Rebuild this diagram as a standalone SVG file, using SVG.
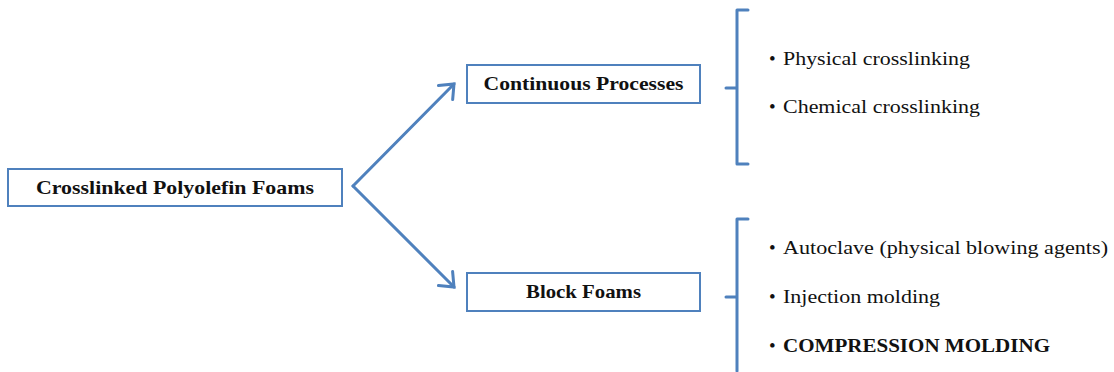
<svg xmlns="http://www.w3.org/2000/svg" width="1114" height="372" viewBox="0 0 1114 372">
  <style>
    .box { fill: #ffffff; stroke: #4f81bd; stroke-width: 2; }
    .lbl { font-family: "Liberation Serif", "DejaVu Serif", serif; font-weight: bold; font-size: 19.5px; fill: #111111; text-anchor: middle; }
    .item { font-family: "Liberation Serif", "DejaVu Serif", serif; font-size: 19px; fill: #111111; }
    .item.b { font-weight: bold; }
    .dot { font-family: "Liberation Serif", "DejaVu Serif", serif; font-size: 19px; fill: #111111; }
    .conn { fill: none; stroke: #4f81bd; stroke-width: 3; stroke-linecap: round; stroke-linejoin: round; }
  </style>
  <defs>
    <marker id="chev" markerUnits="userSpaceOnUse" viewBox="-16 -14 20 28" refX="0" refY="0" markerWidth="20" markerHeight="28" orient="auto" overflow="visible">
      <path d="M-12,-10 L0,0 L-12,10" fill="none" stroke="#4f81bd" stroke-width="3" stroke-linecap="round" stroke-linejoin="miter"/>
    </marker>
  </defs>

  <rect width="1114" height="372" fill="#ffffff"/>

  <!-- connectors: split arrows and side brackets -->
  <g id="connectors">
    <path class="conn" d="M353,186 L454,84" marker-end="url(#chev)"/>
    <path class="conn" d="M353,186 L454,287" marker-end="url(#chev)"/>
    <path class="conn" d="M748,10 H737 V164 H748 M737,88 H726"/>
    <path class="conn" d="M748,219 H737 V371 M737,297 H726"/>
  </g>

  <g id="node-root">
    <rect class="box" x="8" y="169" width="334" height="37"/>
    <text class="lbl" x="175" y="194" textLength="278" lengthAdjust="spacingAndGlyphs">Crosslinked Polyolefin Foams</text>
  </g>

  <g id="node-continuous">
    <rect class="box" x="467" y="65" width="233" height="38"/>
    <text class="lbl" x="583.5" y="90" textLength="200" lengthAdjust="spacingAndGlyphs">Continuous Processes</text>
  </g>

  <g id="node-block">
    <rect class="box" x="467" y="273" width="233" height="38"/>
    <text class="lbl" x="583.5" y="298" textLength="115" lengthAdjust="spacingAndGlyphs">Block Foams</text>
  </g>

  <g id="list-continuous">
    <text class="dot" x="769" y="65">•</text>
    <text class="item" x="783" y="65" textLength="187" lengthAdjust="spacingAndGlyphs">Physical crosslinking</text>
    <text class="dot" x="769" y="113">•</text>
    <text class="item" x="783" y="113" textLength="197" lengthAdjust="spacingAndGlyphs">Chemical crosslinking</text>
  </g>

  <g id="list-block">
    <text class="dot" x="769" y="254">•</text>
    <text class="item" x="783" y="254" textLength="325" lengthAdjust="spacingAndGlyphs">Autoclave (physical blowing agents)</text>
    <text class="dot" x="769" y="303">•</text>
    <text class="item" x="783" y="303" textLength="157" lengthAdjust="spacingAndGlyphs">Injection molding</text>
    <text class="dot" x="769" y="352">•</text>
    <text class="item b" x="783" y="352" textLength="267" lengthAdjust="spacingAndGlyphs">COMPRESSION MOLDING</text>
  </g>
</svg>
